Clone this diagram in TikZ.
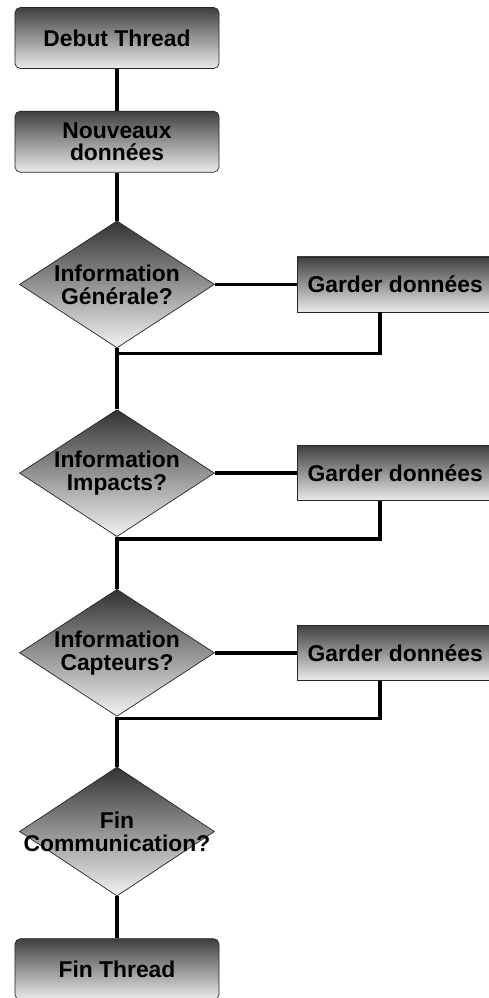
\documentclass[tikz,border=0pt]{standalone}
\usepackage{fontspec}
\setmainfont{Liberation Sans}
\usetikzlibrary{positioning, shapes.geometric, calc}

\begin{document}
\begin{tikzpicture}[
            box/.style={
                rectangle,
                rounded corners=3pt,
                draw=black!85,
                top color=black!75,
                bottom color=black!8,
                minimum height=1.22cm,
                minimum width=4.08cm,
                align=center,
                font=\fontsize{13}{13}\selectfont\bfseries
            },
            keep/.style={
                rectangle,
                draw=black!85,
                top color=black!75,
                bottom color=black!8,
                minimum height=1.1cm,
                minimum width=3.92cm,
                font=\fontsize{13}{13}\selectfont\bfseries
            },
            decision/.style={
                diamond,
                draw=black!85,
                top color=black!80,
                bottom color=black!5,
                minimum width=3.9cm,
                minimum height=2.54cm,
                inner sep=0pt,
                label={[align=center, font=\fontsize{13}{13}\selectfont\bfseries]center:#1}
            },
            line/.style={line width=2pt}
        ]

        \useasboundingbox (0,0) rectangle (9.78,-19.96);

        % Nodes
        \node[box] (Debut) at (2.34,-0.76) {Debut Thread};
        \node[box, below=0.84cm of Debut] (Nouveaux) {Nouveaux\\données};
        \node[decision={Information\\Générale?}, below=0.96cm of Nouveaux] (InfoGen) {};
        \node[keep, right=1.64cm of InfoGen] (Garder1) {Garder données};
        \node[decision={Information\\Impacts?}, below=1.22cm of InfoGen] (InfoImp) {};
        \node[keep, right=1.64cm of InfoImp] (Garder2) {Garder données};
        \node[decision={Information\\Capteurs?}, below=1.04cm of InfoImp] (InfoCap) {};
        \node[keep, right=1.64cm of InfoCap] (Garder3) {Garder données};
        \node[decision={Fin\\Communication?}, below=1.0cm of InfoCap, minimum height=2.58cm] (FinCom) {};
        \node[box, below=0.84cm of FinCom] (Fin) {Fin Thread};

        % Junctions
        \coordinate (J1) at ($(InfoGen.south)+(0,-0.1)$);
        \coordinate (J2) at ($(InfoImp.south)+(0,-0.04)$);
        \coordinate (J3) at ($(InfoCap.south)+(0,-0.04)$);

        % Lines
        \draw[line] (Debut) -- (Nouveaux);
        \draw[line] (Nouveaux) -- (InfoGen);
        \draw[line] (InfoGen) -- (Garder1);
        \draw[line] ([xshift=1.66cm]Garder1.south west) |- (J1);
        \draw[line] (InfoGen.south) -- (InfoImp.north);
        \draw[line] (InfoImp) -- (Garder2);
        \draw[line] ([xshift=1.66cm]Garder2.south west) |- (J2);
        \draw[line] (InfoImp.south) -- (InfoCap.north);
        \draw[line] (InfoCap) -- (Garder3);
        \draw[line] ([xshift=1.66cm]Garder3.south west) |- (J3);
        \draw[line] (InfoCap.south) -- (FinCom.north);
        \draw[line] (FinCom) -- (Fin);

\end{tikzpicture}
\end{document}
